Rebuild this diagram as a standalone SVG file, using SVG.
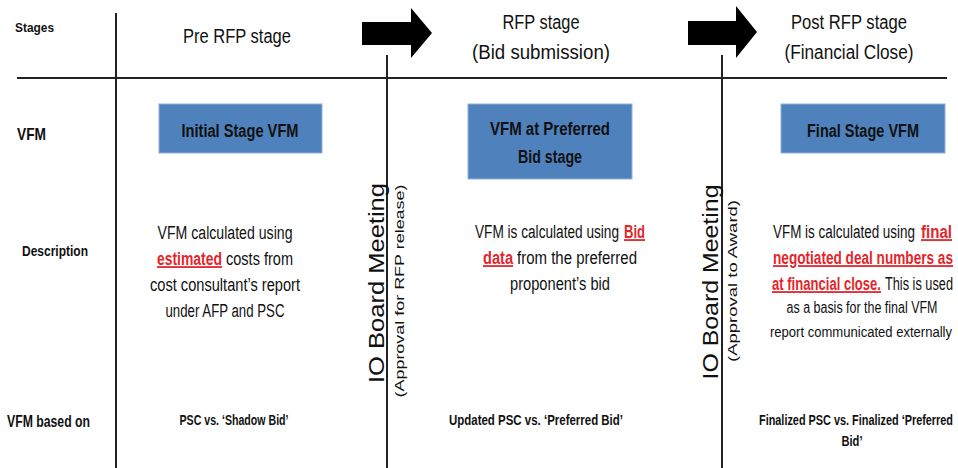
<svg xmlns="http://www.w3.org/2000/svg" width="958" height="468" viewBox="0 0 958 468">
<style>
  text { font-family: "Liberation Sans", Arial, sans-serif; fill: #111; }
  .lbl { font-weight: bold; }
  .hdr { font-size: 20px; text-anchor: middle; }
  .box { fill: #4f81bd; stroke: #8fb0dc; stroke-width: 1; }
  .boxt { font-size: 18px; font-weight: bold; text-anchor: middle; }
  .d { font-size: 13.2px; }
  .c { text-anchor: middle; }
  .red { fill: #e3262b; text-decoration: underline; font-weight: bold; }
  .bot { font-weight: bold; text-anchor: middle; }
  .vt { font-size: 22px; text-anchor: middle; }
  .vs { font-size: 13px; text-anchor: middle; }
  .grid line { stroke: #222; stroke-width: 2; }
  .arr { fill: #000; }
</style>
<rect width="958" height="468" fill="#fff"/>
<g id="grid" class="grid">
  <line x1="116" y1="13" x2="116" y2="468"/>
  <line x1="17" y1="78" x2="947" y2="78"/>
  <line x1="387" y1="55" x2="387" y2="468"/>
  <line x1="722" y1="55" x2="722" y2="468"/>
</g>
<g id="connectors">
  <polygon class="arr" points="362,22 411,22 411,8 432,33 411,58 411,45 362,45"/>
  <polygon class="arr" points="688,21 736,21 736,6 757,32 736,58 736,45 688,45"/>
</g>
<g id="row-labels">
  <text class="lbl" x="15" y="32" font-size="13" textLength="39" lengthAdjust="spacingAndGlyphs">Stages</text>
  <text class="lbl" x="17" y="140" font-size="17" textLength="29" lengthAdjust="spacingAndGlyphs">VFM</text>
  <text class="lbl" x="22" y="256" font-size="15" textLength="66" lengthAdjust="spacingAndGlyphs">Description</text>
  <text class="lbl" x="7" y="427" font-size="16" textLength="83" lengthAdjust="spacingAndGlyphs">VFM based on</text>
</g>
<g id="stage-pre">
  <text class="hdr" x="237" y="43" textLength="108" lengthAdjust="spacingAndGlyphs">Pre RFP stage</text>
</g>
<g id="stage-rfp">
  <text class="hdr" x="541" y="29" textLength="77" lengthAdjust="spacingAndGlyphs">RFP stage</text>
  <text class="hdr" x="541" y="59" textLength="138" lengthAdjust="spacingAndGlyphs">(Bid submission)</text>
</g>
<g id="stage-post">
  <text class="hdr" x="849" y="29" textLength="116" lengthAdjust="spacingAndGlyphs">Post RFP stage</text>
  <text class="hdr" x="849" y="59" textLength="129" lengthAdjust="spacingAndGlyphs">(Financial Close)</text>
</g>
<g id="vfm-initial">
  <rect class="box" x="159" y="104" width="163" height="49"/>
  <text class="boxt" x="240" y="137" textLength="117" lengthAdjust="spacingAndGlyphs">Initial Stage VFM</text>
</g>
<g id="vfm-preferred">
  <rect class="box" x="468" y="104" width="164" height="75"/>
  <text class="boxt" x="550" y="135" textLength="120" lengthAdjust="spacingAndGlyphs">VFM at Preferred</text>
  <text class="boxt" x="550" y="163" textLength="64" lengthAdjust="spacingAndGlyphs">Bid stage</text>
</g>
<g id="vfm-final">
  <rect class="box" x="781" y="104" width="164" height="49"/>
  <text class="boxt" x="863" y="137" textLength="112" lengthAdjust="spacingAndGlyphs">Final Stage VFM</text>
</g>
<g id="board-rfp-release">
  <text class="vt" transform="translate(384,283) rotate(-90)" textLength="200" lengthAdjust="spacingAndGlyphs">IO Board Meeting</text>
  <text class="vs" transform="translate(404,291) rotate(-90)" textLength="213" lengthAdjust="spacingAndGlyphs">(Approval for RFP release)</text>
</g>
<g id="board-award">
  <text class="vt" transform="translate(718,282) rotate(-90)" textLength="195" lengthAdjust="spacingAndGlyphs">IO Board Meeting</text>
  <text class="vs" transform="translate(737,281) rotate(-90)" textLength="162" lengthAdjust="spacingAndGlyphs">(Approval to Award)</text>
</g>
<g id="desc-pre">
  <text class="d c" transform="translate(225,239) scale(1,1.36)" textLength="135" lengthAdjust="spacingAndGlyphs">VFM calculated using</text>
  <text class="d red" transform="translate(157,265) scale(1,1.36)" textLength="65" lengthAdjust="spacingAndGlyphs">estimated</text>
  <text class="d" transform="translate(226,265) scale(1,1.36)" textLength="67" lengthAdjust="spacingAndGlyphs">costs from</text>
  <text class="d c" transform="translate(225,291) scale(1,1.36)" textLength="150" lengthAdjust="spacingAndGlyphs">cost consultant’s report</text>
  <text class="d c" transform="translate(225,317) scale(1,1.36)" textLength="119" lengthAdjust="spacingAndGlyphs">under AFP and PSC</text>
</g>
<g id="desc-rfp">
  <text class="d" transform="translate(475,238) scale(1,1.36)" textLength="144" lengthAdjust="spacingAndGlyphs">VFM is calculated using</text>
  <text class="d red" transform="translate(624,238) scale(1,1.36)" textLength="21" lengthAdjust="spacingAndGlyphs">Bid</text>
  <text class="d red" transform="translate(483,264) scale(1,1.36)" textLength="30" lengthAdjust="spacingAndGlyphs">data</text>
  <text class="d" transform="translate(517,264) scale(1,1.36)" textLength="120" lengthAdjust="spacingAndGlyphs">from the preferred</text>
  <text class="d c" transform="translate(560,290) scale(1,1.36)" textLength="100" lengthAdjust="spacingAndGlyphs">proponent’s bid</text>
</g>
<g id="desc-post">
  <text class="d" transform="translate(773,238) scale(1,1.36)" textLength="142" lengthAdjust="spacingAndGlyphs">VFM is calculated using</text>
  <text class="d red" transform="translate(921,238) scale(1,1.36)" textLength="31" lengthAdjust="spacingAndGlyphs">final</text>
  <text class="d red" transform="translate(773,264) scale(1,1.36)" textLength="180" lengthAdjust="spacingAndGlyphs">negotiated deal numbers as</text>
  <text class="d red" transform="translate(772,290) scale(1,1.36)" textLength="109" lengthAdjust="spacingAndGlyphs">at financial close.</text>
  <text class="d" font-size="12.8" transform="translate(885,290) scale(1,1.4)" textLength="68" lengthAdjust="spacingAndGlyphs">This is used</text>
  <text class="c" font-size="12.4" transform="translate(862,313) scale(1,1.29)" textLength="151" lengthAdjust="spacingAndGlyphs">as a basis for the final VFM</text>
  <text class="c" font-size="13" transform="translate(861,337) scale(1,1.16)" textLength="182" lengthAdjust="spacingAndGlyphs">report communicated externally</text>
</g>
<g id="based-pre">
  <text class="bot" font-size="10.3" transform="translate(234,425) scale(1,1.36)" textLength="109" lengthAdjust="spacingAndGlyphs">PSC vs. ‘Shadow Bid’</text>
</g>
<g id="based-rfp">
  <text class="bot" font-size="11.4" transform="translate(536,425) scale(1,1.23)" textLength="174" lengthAdjust="spacingAndGlyphs">Updated PSC vs. ‘Preferred Bid’</text>
</g>
<g id="based-post">
  <text class="bot" font-size="10.8" transform="translate(856,425) scale(1,1.3)" textLength="194" lengthAdjust="spacingAndGlyphs">Finalized PSC vs. Finalized ‘Preferred</text>
  <text class="bot" font-size="10.8" transform="translate(852,446) scale(1,1.3)" textLength="21" lengthAdjust="spacingAndGlyphs">Bid’</text>
</g>
</svg>
